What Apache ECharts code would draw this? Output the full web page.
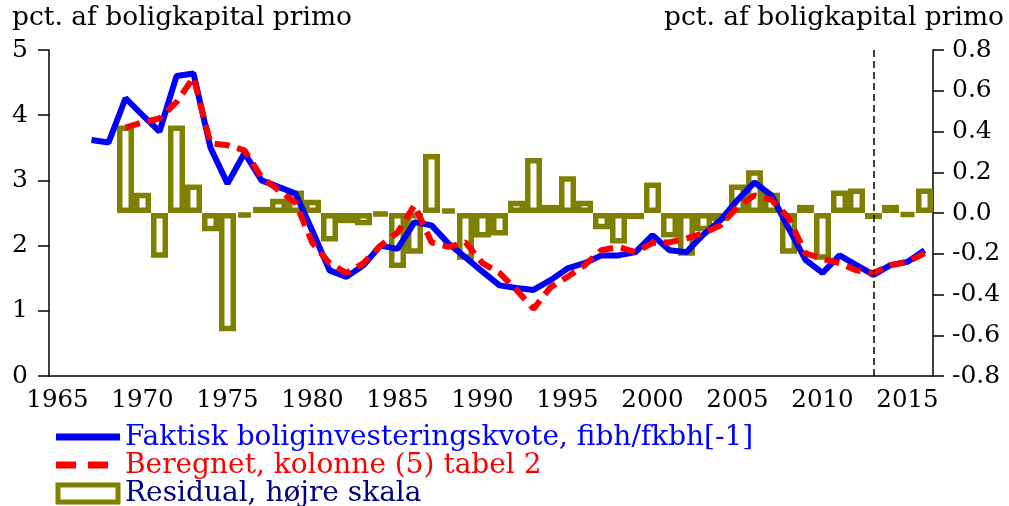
<!DOCTYPE html>
<html>
<head>
<meta charset="utf-8">
<script src="https://cdn.jsdelivr.net/npm/echarts@6/dist/echarts.min.js"></script>
<style>html,body{margin:0;padding:0;background:#fff}#c{width:1009px;height:506px}</style>
</head>
<body>
<div id="c"></div>
<script>
// ---- data ----
const years = [];
for (let y = 1965; y <= 2016; y++) years.push(String(y));

// Faktisk boliginvesteringskvote (1967-2016), left scale
const actualStart = 1967;
const actual = [3.62, 3.58, 4.26, 4.00, 3.75, 4.60, 4.64, 3.50, 2.95, 3.42,
  3.00, 2.90, 2.80, 2.22, 1.62, 1.52, 1.70, 2.00, 1.95, 2.36,
  2.31, 2.03, 1.82, 1.60, 1.39, 1.35, 1.32, 1.47, 1.65, 1.73,
  1.85, 1.85, 1.90, 2.16, 1.93, 1.90, 2.17, 2.39, 2.70, 2.97,
  2.77, 2.27, 1.78, 1.58, 1.85, 1.70, 1.55, 1.70, 1.75, 1.93];

// Beregnet, kolonne (5) tabel 2 (1969-2016), left scale
const fittedStart = 1969;
const fitted = [3.81, 3.89, 3.95, 4.20, 4.58, 3.57, 3.54, 3.46, 3.05, 2.85,
  2.66, 2.04, 1.73, 1.58, 1.73, 2.00, 2.20, 2.62, 2.05, 1.98,
  2.05, 1.73, 1.58, 1.32, 1.03, 1.36, 1.52, 1.70, 1.93, 1.98,
  1.90, 2.04, 2.05, 2.11, 2.19, 2.31, 2.59, 2.77, 2.70, 2.43,
  1.88, 1.80, 1.73, 1.62, 1.58, 1.70, 1.75, 1.88];

// Residual (1969-2016), right scale
const residStart = 1969;
const resid = [0.43, 0.10, -0.22, 0.43, 0.14, -0.09, -0.58, -0.02, 0.03, 0.07,
  0.11, 0.065, -0.14, -0.05, -0.06, -0.01, -0.27, -0.20, 0.29, 0.02,
  -0.23, -0.12, -0.11, 0.06, 0.27, 0.04, 0.18, 0.06, -0.08, -0.15,
  -0.03, 0.15, -0.12, -0.21, -0.09, -0.04, 0.14, 0.21, 0.10, -0.20,
  0.04, -0.23, 0.11, 0.12, -0.03, 0.04, -0.015, 0.12];

const markYear = '2013';
const names = ['Faktisk boliginvesteringskvote, fibh/fkbh[-1]', 'Beregnet, kolonne (5) tabel 2', 'Residual, højre skala'];
const axisTitle = 'pct. af boligkapital primo';

function align(arr, start) {
  const out = years.map(() => null);
  arr.forEach((v, i) => { out[start - 1965 + i] = v; });
  return out;
}

const FONT = 'DejaVu Serif';
const BLUE = '#0000FF', RED = '#FF0000', OLIVE = '#808000', NAVY = '#000080';
const legendFont = '28px "DejaVu Serif"';

const chart = echarts.init(document.getElementById('c'));
chart.setOption({
  animation: false,
  backgroundColor: '#fff',
  grid: { left: 49, right: 76, top: 50, bottom: 130, containLabel: false },
  graphic: [
    { type: 'text', left: 12, top: 5, style: { text: axisTitle, font: '26.5px "DejaVu Serif"', fill: '#000' } },
    { type: 'text', right: 5, top: 5, style: { text: axisTitle, font: '26.5px "DejaVu Serif"', fill: '#000' } },
    // legend
    { type: 'line', shape: { x1: 56, y1: 437, x2: 120, y2: 437 }, style: { stroke: BLUE, lineWidth: 7 } },
    { type: 'text', x: 125, y: 438, style: { text: names[0], font: legendFont, fill: BLUE, textVerticalAlign: 'middle', verticalAlign: 'middle' } },
    { type: 'line', shape: { x1: 56, y1: 465, x2: 120, y2: 465 }, style: { stroke: RED, lineWidth: 7, lineDash: [20, 12] } },
    { type: 'text', x: 125, y: 466, style: { text: names[1], font: legendFont, fill: RED, textVerticalAlign: 'middle', verticalAlign: 'middle' } },
    { type: 'rect', shape: { x: 58, y: 485, width: 60, height: 17 }, style: { stroke: OLIVE, lineWidth: 5, fill: 'none' } },
    { type: 'text', x: 125, y: 494, style: { text: names[2], font: legendFont, fill: NAVY, textVerticalAlign: 'middle', verticalAlign: 'middle' } }
  ],
  xAxis: {
    type: 'category', data: years, boundaryGap: true,
    axisLine: { lineStyle: { color: '#000', width: 1.5 } },
    axisTick: { interval: 0, length: 9, lineStyle: { color: '#000', width: 1.5 } },
    axisLabel: { interval: 4, fontFamily: FONT, fontSize: 24.5, color: '#000', margin: 12 },
    splitLine: { show: false }
  },
  yAxis: [
    {
      type: 'value', min: 0, max: 5, interval: 1, position: 'left',
      axisLine: { show: true, lineStyle: { color: '#000', width: 1.5 } },
      axisTick: { show: true, length: 11, lineStyle: { color: '#000', width: 1.5 } },
      axisLabel: { fontFamily: FONT, fontSize: 25, color: '#000', margin: 21 },
      splitLine: { show: false }
    },
    {
      type: 'value', min: -0.8, max: 0.8, interval: 0.2, position: 'right',
      axisLine: { show: true, lineStyle: { color: '#000', width: 1.5 } },
      axisTick: { show: true, length: 11, lineStyle: { color: '#000', width: 1.5 } },
      axisLabel: { fontFamily: FONT, fontSize: 25, color: '#000', margin: 19,
        formatter: v => (Math.abs(v) < 1e-9 ? '0.0' : v.toFixed(1)) },
      splitLine: { show: false }
    }
  ],
  series: [
    {
      name: names[2], type: 'bar', yAxisIndex: 1, data: align(resid, residStart),
      barWidth: '100%', barGap: '-100%',
      itemStyle: { color: 'rgba(0,0,0,0)', borderColor: OLIVE, borderWidth: 5.5 },
      markLine: {
        silent: true, symbol: ['none', 'none'], label: { show: false },
        lineStyle: { color: '#000', type: [7, 4], width: 1.5 },
        data: [{ xAxis: markYear }]
      },
      z: 1
    },
    {
      name: names[0], type: 'line', yAxisIndex: 0, data: align(actual, actualStart),
      symbol: 'none', lineStyle: { color: BLUE, width: 6 }, itemStyle: { color: BLUE }, z: 3
    },
    {
      name: names[1], type: 'line', yAxisIndex: 0, data: align(fitted, fittedStart),
      symbol: 'none', lineStyle: { color: RED, width: 6, type: [15, 8] }, itemStyle: { color: RED }, z: 4
    }
  ]
});
</script>
</body>
</html>
